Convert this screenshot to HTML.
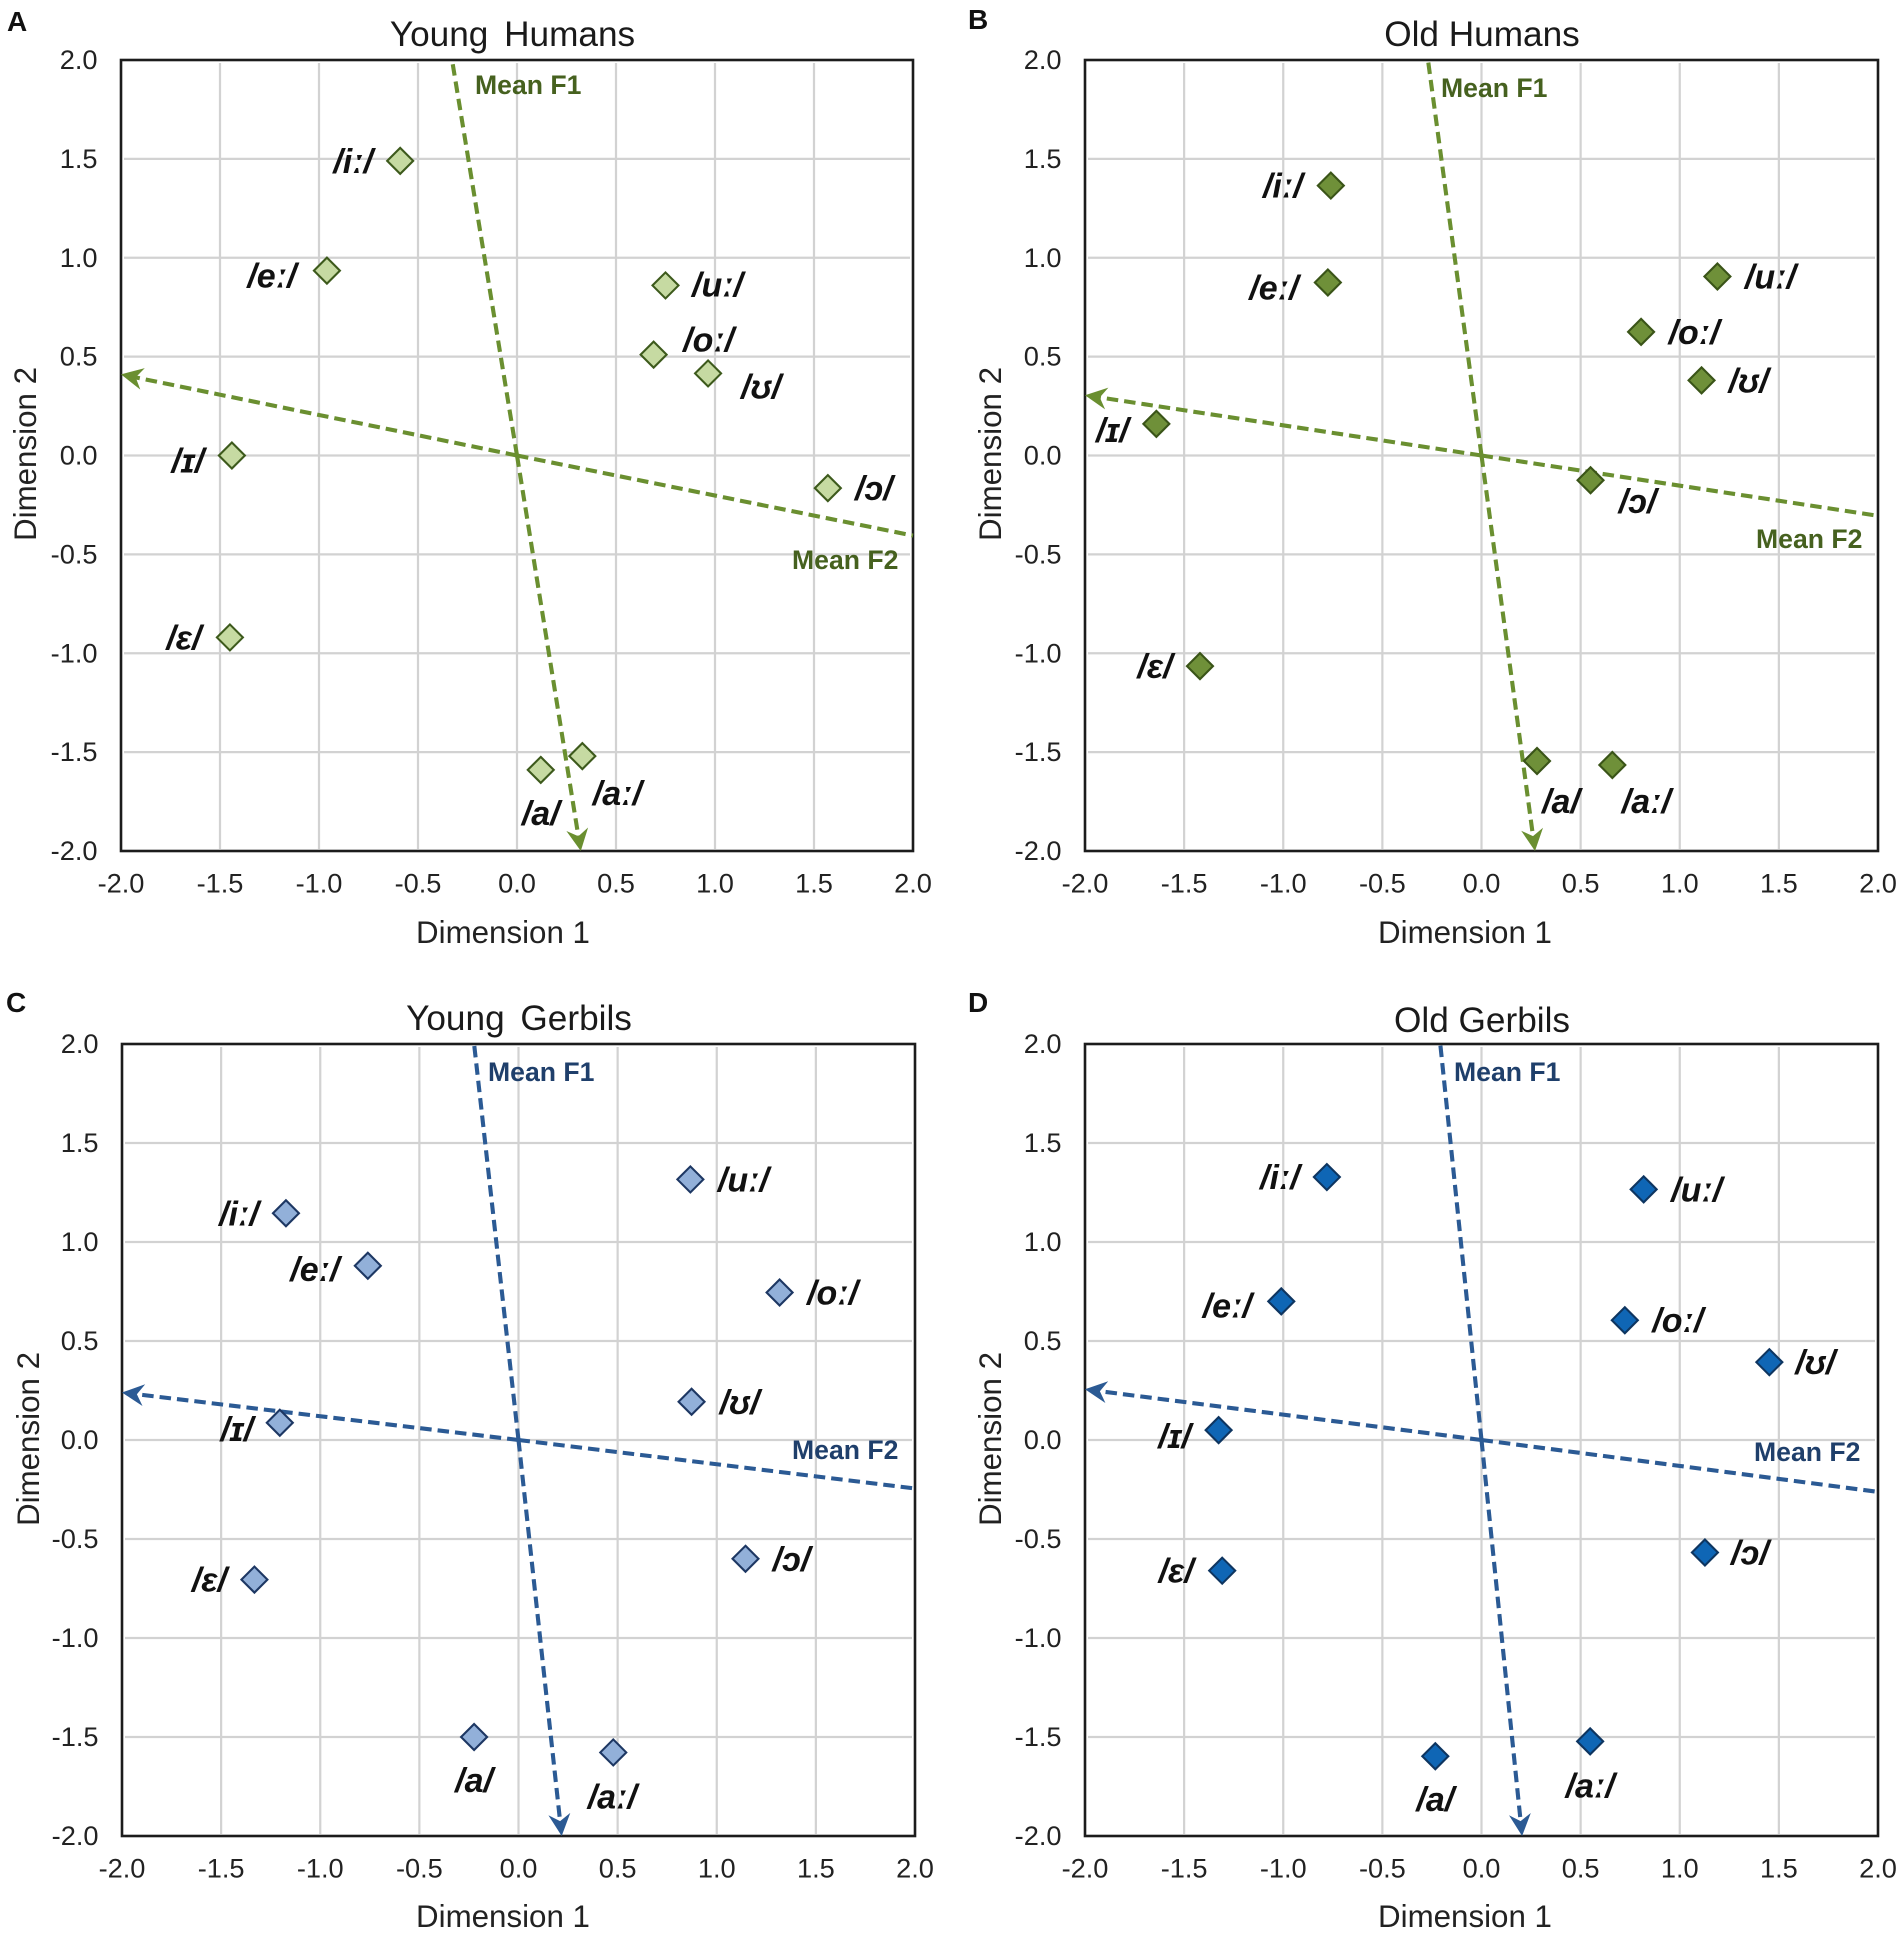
<!DOCTYPE html>
<html lang="en">
<head>
<meta charset="utf-8">
<title>Vowel perceptual maps</title>
<style>
html,body{margin:0;padding:0;background:#fff;width:1902px;height:1934px;overflow:hidden}
svg{display:block;font-family:"Liberation Sans",Arial,sans-serif}
.title{font-size:35.2px;fill:#1a1a1a;text-anchor:middle}
.letter{font-size:28px;font-weight:bold;fill:#111}
.axt{font-size:31.3px;fill:#222;text-anchor:middle}
.tick{font-size:27.2px;fill:#222}
.mean{font-size:26.6px;font-weight:bold}
.vowel{font-size:34px;font-weight:bold;font-style:italic;fill:#111;text-anchor:middle}
</style>
</head>
<body>
<svg id="fig" xmlns="http://www.w3.org/2000/svg" width="1902" height="1934" viewBox="0 0 1902 1934">
  <rect width="1902" height="1934" fill="#fff"/>

  <g id="panel-a">
    <text class="letter" x="7" y="31">A</text>
    <text class="title" x="512.5" y="46" style="word-spacing:6px">Young Humans</text>
    <text class="axt" x="503" y="943">Dimension 1</text>
    <text class="axt" transform="translate(36 454) rotate(-90)">Dimension 2</text>
  </g>
  <g id="panel-b">
    <text class="letter" x="968" y="29">B</text>
    <text class="title" x="1482" y="46">Old Humans</text>
    <text class="axt" x="1465" y="943">Dimension 1</text>
    <text class="axt" transform="translate(1001 454) rotate(-90)">Dimension 2</text>
  </g>
  <g id="panel-c">
    <text class="letter" x="6" y="1012">C</text>
    <text class="title" x="519" y="1030" style="word-spacing:6px">Young Gerbils</text>
    <text class="axt" x="503" y="1927">Dimension 1</text>
    <text class="axt" transform="translate(39 1439) rotate(-90)">Dimension 2</text>
  </g>
  <g id="panel-d">
    <text class="letter" x="968" y="1012">D</text>
    <text class="title" x="1482" y="1032">Old Gerbils</text>
    <text class="axt" x="1465" y="1927">Dimension 1</text>
    <text class="axt" transform="translate(1001 1439) rotate(-90)">Dimension 2</text>
  </g>
</svg>

<script>
// Shared categories and tick labels
var vowels = ['/iː/', '/eː/', '/ɛ/', '/ɪ/', '/a/', '/aː/', '/ɔ/', '/oː/', '/ʊ/', '/uː/'];
var vowelKeys = ['i-long', 'e-long', 'epsilon', 'small-i', 'a', 'a-long', 'open-o', 'o-long', 'upsilon', 'u-long'];
var axisTicks = [-2.0, -1.5, -1.0, -0.5, 0.0, 0.5, 1.0, 1.5, 2.0];
var axisMin = -2;
var axisMax = 2;

// Panel A: Young Humans
var youngHumansDim1 = [-0.59, -0.96, -1.45, -1.44, 0.12, 0.33, 1.57, 0.69, 0.965, 0.75];
var youngHumansDim2 = [1.49, 0.935, -0.92, 0.0, -1.59, -1.52, -0.165, 0.51, 0.415, 0.86];
var youngHumansMeanF1 = [0.322, -2.0];
var youngHumansMeanF1Start = [-0.328, 2.0];
var youngHumansMeanF2 = [-2.0, 0.41];
var youngHumansMeanF2Start = [2.0, -0.405];

// Panel B: Old Humans
var oldHumansDim1 = [-0.76, -0.775, -1.42, -1.64, 0.28, 0.66, 0.55, 0.805, 1.11, 1.19];
var oldHumansDim2 = [1.365, 0.875, -1.065, 0.16, -1.545, -1.565, -0.125, 0.625, 0.38, 0.905];
var oldHumansMeanF1 = [0.27, -2.0];
var oldHumansMeanF1Start = [-0.27, 2.0];
var oldHumansMeanF2 = [-2.0, 0.305];
var oldHumansMeanF2Start = [2.0, -0.305];

// Panel C: Young Gerbils
var youngGerbilsDim1 = [-1.173, -0.76, -1.332, -1.204, -0.224, 0.478, 1.145, 1.317, 0.873, 0.867];
var youngGerbilsDim2 = [1.145, 0.88, -0.705, 0.087, -1.5, -1.578, -0.6, 0.745, 0.193, 1.316];
var youngGerbilsMeanF1 = [0.218, -2.0];
var youngGerbilsMeanF1Start = [-0.224, 2.0];
var youngGerbilsMeanF2 = [-2.0, 0.24];
var youngGerbilsMeanF2Start = [2.0, -0.245];

// Panel D: Old Gerbils
var oldGerbilsDim1 = [-0.78, -1.01, -1.308, -1.326, -0.233, 0.548, 1.127, 0.723, 1.452, 0.818];
var oldGerbilsDim2 = [1.328, 0.70, -0.66, 0.05, -1.597, -1.522, -0.568, 0.605, 0.393, 1.266];
var oldGerbilsMeanF1 = [0.205, -2.0];
var oldGerbilsMeanF1Start = [-0.208, 2.0];
var oldGerbilsMeanF2 = [-2.0, 0.256];
var oldGerbilsMeanF2Start = [2.0, -0.262];

var NS = 'http://www.w3.org/2000/svg';

function make(parent, tag, props) {
  var node = document.createElementNS(NS, tag);
  for (var k in props) node.setAttribute(k, props[k]);
  parent.appendChild(node);
  return node;
}

function drawPanel(cfg) {
  var g = document.getElementById(cfg.id);
  var sx = function (v) { return cfg.left + (v - axisMin) / (axisMax - axisMin) * (cfg.right - cfg.left); };
  var sy = function (v) { return cfg.bottom - (v - axisMin) / (axisMax - axisMin) * (cfg.bottom - cfg.top); };
  var el, i;

  // Gridlines
  axisTicks.forEach(function (t) {
    if (t === axisMin || t === axisMax) return;
    el = make(g, 'line', { x1: sx(t), x2: sx(t), y1: cfg.top + 3, y2: cfg.bottom - 2, stroke: '#d2d2d2', 'stroke-width': 2.2 });
    
    
    el = make(g, 'line', { x1: cfg.left + 3, x2: cfg.right - 3, y1: sy(t), y2: sy(t), stroke: '#d2d2d2', 'stroke-width': 2.2 });
    
    
  });

  // Plot frame
  el = make(g, 'rect', { x: cfg.left, y: cfg.top, width: cfg.right - cfg.left, height: cfg.bottom - cfg.top, fill: 'none', stroke: '#1c1c1c', 'stroke-width': 2.6 });
  
  

  // Tick labels
  axisTicks.forEach(function (t) {
    el = make(g, 'text', { x: sx(t), y: cfg.bottom + 41.5, 'class': 'tick', 'text-anchor': 'middle' });
    el.textContent = t.toFixed(1);
    
    
    el = make(g, 'text', { x: cfg.left - 23.5, y: sy(t) + 9, 'class': 'tick', 'text-anchor': 'end' });
    el.textContent = t.toFixed(1);
    
    
  });

  // Mean F1 / F2 dashed vectors
  function dashed(name, from, to, arrow) {
    var ox = sx(0), oy = sy(0);
    var x1 = sx(from[0]), y1 = sy(from[1]);
    var x2 = sx(to[0]), y2 = sy(to[1]);
    var ang = Math.atan2(y2 - oy, x2 - ox);
    var bx = x2 - 14 * Math.cos(ang), by = y2 - 14 * Math.sin(ang);
    el = make(g, 'path', {
      d: 'M' + ox + ' ' + oy + 'L' + x1 + ' ' + y1 + 'M' + ox + ' ' + oy + 'L' + bx + ' ' + by,
      fill: 'none', stroke: cfg.lineColor, 'stroke-width': 4.1, 'stroke-dasharray': '11.5 6'
    });
    
    
    var c = Math.cos(ang), s = Math.sin(ang);
    var pt = function (along, across) {
      return (x2 + along * c - across * s).toFixed(1) + ' ' + (y2 + along * s + across * c).toFixed(1);
    };
    el = make(g, 'path', {
      d: 'M' + pt(0, 0) + 'L' + pt(-22, -11) + 'L' + pt(-15, 0) + 'L' + pt(-22, 11) + 'Z',
      fill: cfg.lineColor
    });
    
    
  }
  dashed('mean-f1-line', cfg.f1Start, cfg.f1, 'mean-f1-arrowhead');
  dashed('mean-f2-line', cfg.f2Start, cfg.f2, 'mean-f2-arrowhead');

  el = make(g, 'text', { x: cfg.f1Label[0], y: cfg.f1Label[1], 'class': 'mean', fill: cfg.textColor });
  el.textContent = 'Mean F1';
  
  
  el = make(g, 'text', { x: cfg.f2Label[0], y: cfg.f2Label[1], 'class': 'mean', fill: cfg.textColor });
  el.textContent = 'Mean F2';
  
  

  // Vowel markers and labels
  for (i = 0; i < vowels.length; i++) {
    var px = sx(cfg.xs[i]), py = sy(cfg.ys[i]);
    var r = 13;
    el = make(g, 'polygon', {
      points: px + ',' + (py - r) + ' ' + (px + r) + ',' + py + ' ' + px + ',' + (py + r) + ' ' + (px - r) + ',' + py,
      fill: cfg.fill, stroke: cfg.edge, 'stroke-width': 2.1
    });
    
    
    var off = cfg.offsets[i];
    el = make(g, 'text', { x: px + off[0], y: py + off[1] + 11, 'class': 'vowel' });
    el.textContent = vowels[i];
    
    
  }
}

drawPanel({
  id: 'panel-a', left: 121, right: 913, top: 60, bottom: 851,
  xs: youngHumansDim1, ys: youngHumansDim2,
  f1: youngHumansMeanF1, f1Start: youngHumansMeanF1Start, f2: youngHumansMeanF2, f2Start: youngHumansMeanF2Start,
  f1Label: [475, 94], f2Label: [792, 569],
  fill: '#c6daa2', edge: '#3d5a1c', lineColor: '#6a8f30', textColor: '#46611f',
  offsets: [[-47, 1], [-55, 6], [-46, 1], [-44, 6], [0, 44], [35, 38], [46, 1], [55, -14], [53, 14], [52, 0]]
});
drawPanel({
  id: 'panel-b', left: 1085, right: 1878, top: 60, bottom: 851,
  xs: oldHumansDim1, ys: oldHumansDim2,
  f1: oldHumansMeanF1, f1Start: oldHumansMeanF1Start, f2: oldHumansMeanF2, f2Start: oldHumansMeanF2Start,
  f1Label: [1441, 97], f2Label: [1756, 548],
  fill: '#6f9039', edge: '#3a5418', lineColor: '#6a8f30', textColor: '#46611f',
  offsets: [[-48, 1], [-54, 6], [-45, 1], [-44, 7], [24, 41], [34, 37], [47, 22], [53, 1], [47, 1], [53, 1]]
});
drawPanel({
  id: 'panel-c', left: 122, right: 915, top: 1044, bottom: 1836,
  xs: youngGerbilsDim1, ys: youngGerbilsDim2,
  f1: youngGerbilsMeanF1, f1Start: youngGerbilsMeanF1Start, f2: youngGerbilsMeanF2, f2Start: youngGerbilsMeanF2Start,
  f1Label: [488, 1081], f2Label: [792, 1459],
  fill: '#92b0d9', edge: '#1d3763', lineColor: '#2b5a94', textColor: '#1f3f6b',
  offsets: [[-47, 1], [-53, 4], [-45, 1], [-43, 7], [0, 44], [-1, 45], [46, 1], [53, 1], [48, 1], [53, 1]]
});
drawPanel({
  id: 'panel-d', left: 1085, right: 1878, top: 1044, bottom: 1836,
  xs: oldGerbilsDim1, ys: oldGerbilsDim2,
  f1: oldGerbilsMeanF1, f1Start: oldGerbilsMeanF1Start, f2: oldGerbilsMeanF2, f2Start: oldGerbilsMeanF2Start,
  f1Label: [1454, 1081], f2Label: [1754, 1461],
  fill: '#0f66b5', edge: '#0e3560', lineColor: '#2b5a94', textColor: '#1f3f6b',
  offsets: [[-47, 1], [-54, 5], [-46, 1], [-44, 7], [0, 44], [0, 45], [45, 1], [53, 1], [46, 1], [53, 1]]
});
</script>
</body>
</html>
